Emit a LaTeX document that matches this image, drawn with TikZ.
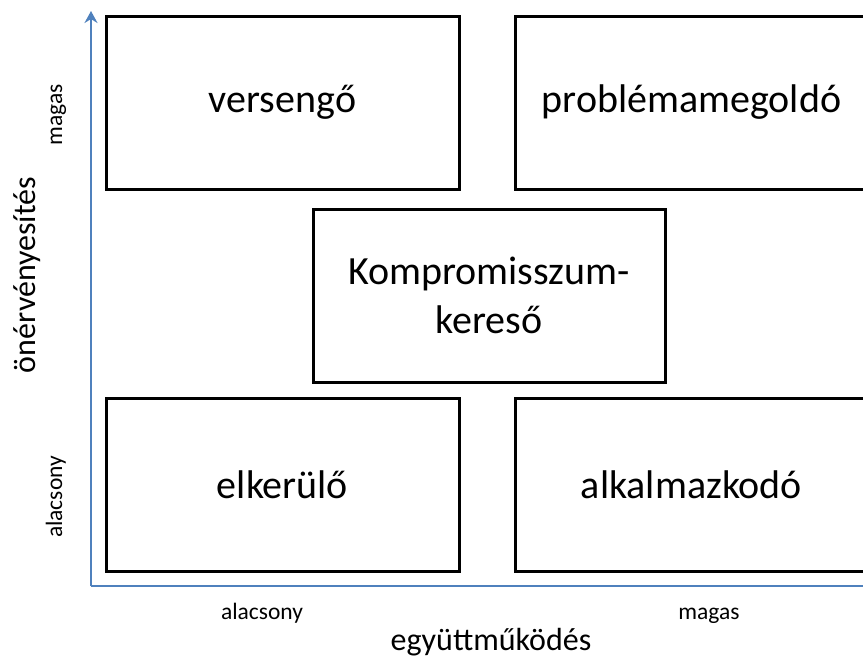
\documentclass[tikz,border=0pt]{standalone}
\usepackage{fontspec}
\setmainfont{Carlito}
\usetikzlibrary{arrows.meta}
\definecolor{axisblue}{HTML}{4F81BD}
\tikzset{
  stylebox/.style={draw=black, line width=3pt, minimum width=353pt, minimum height=173pt,
    inner sep=0pt, font=\fontsize{40}{49}\selectfont, align=center},
  axisline/.style={draw=axisblue, line width=2.6pt},
  ticklabel/.style={font=\fontsize{23.5}{28}\selectfont, inner sep=0pt, anchor=base},
  axislabel/.style={font=\fontsize{32}{38}\selectfont, inner sep=0pt},
}
\begin{document}
\begin{tikzpicture}[x=1pt, y=-1pt]
  \clip (0,0) rectangle (863,662);
  \fill[white] (0,0) rectangle (863,662);

  % conflict-handling styles
  \node[stylebox] (compete)   at (282.5,102.5) {versengő};
  \node[stylebox] (solve)     at (691.5,102.5) {problémamegoldó};
  \node[stylebox, minimum width=352pt] (compromise) at (489,295.5) {Kompromisszum-\\kereső};
  \node[stylebox] (avoid)     at (282.5,484.5) {elkerülő};
  \node[stylebox] (adapt)     at (691.5,484.5) {alkalmazkodó};

  % axes
  \coordinate (origin) at (91,586);
  \coordinate (ytip) at (91,11);
  \coordinate (xend) at (880,586);
  \draw[axisline, -{Stealth[length=12pt, width=13pt, inset=4pt]}] (origin) -- (ytip);
  \draw[axisline] (origin) -- (xend);

  % axis labels
  \node[ticklabel] (xlow)  at (262,619) {alacsony};
  \node[ticklabel] (xhigh) at (709,619) {magas};
  \node[axislabel] (xname) at (491,642) {együttműködés};
  \node[ticklabel, rotate=90] (yhigh) at (62,115) {magas};
  \node[ticklabel, rotate=90] (ylow)  at (62,497) {alacsony};
  \node[axislabel, rotate=90] (yname) at (27,275) {önérvényesítés};
\end{tikzpicture}
\end{document}
